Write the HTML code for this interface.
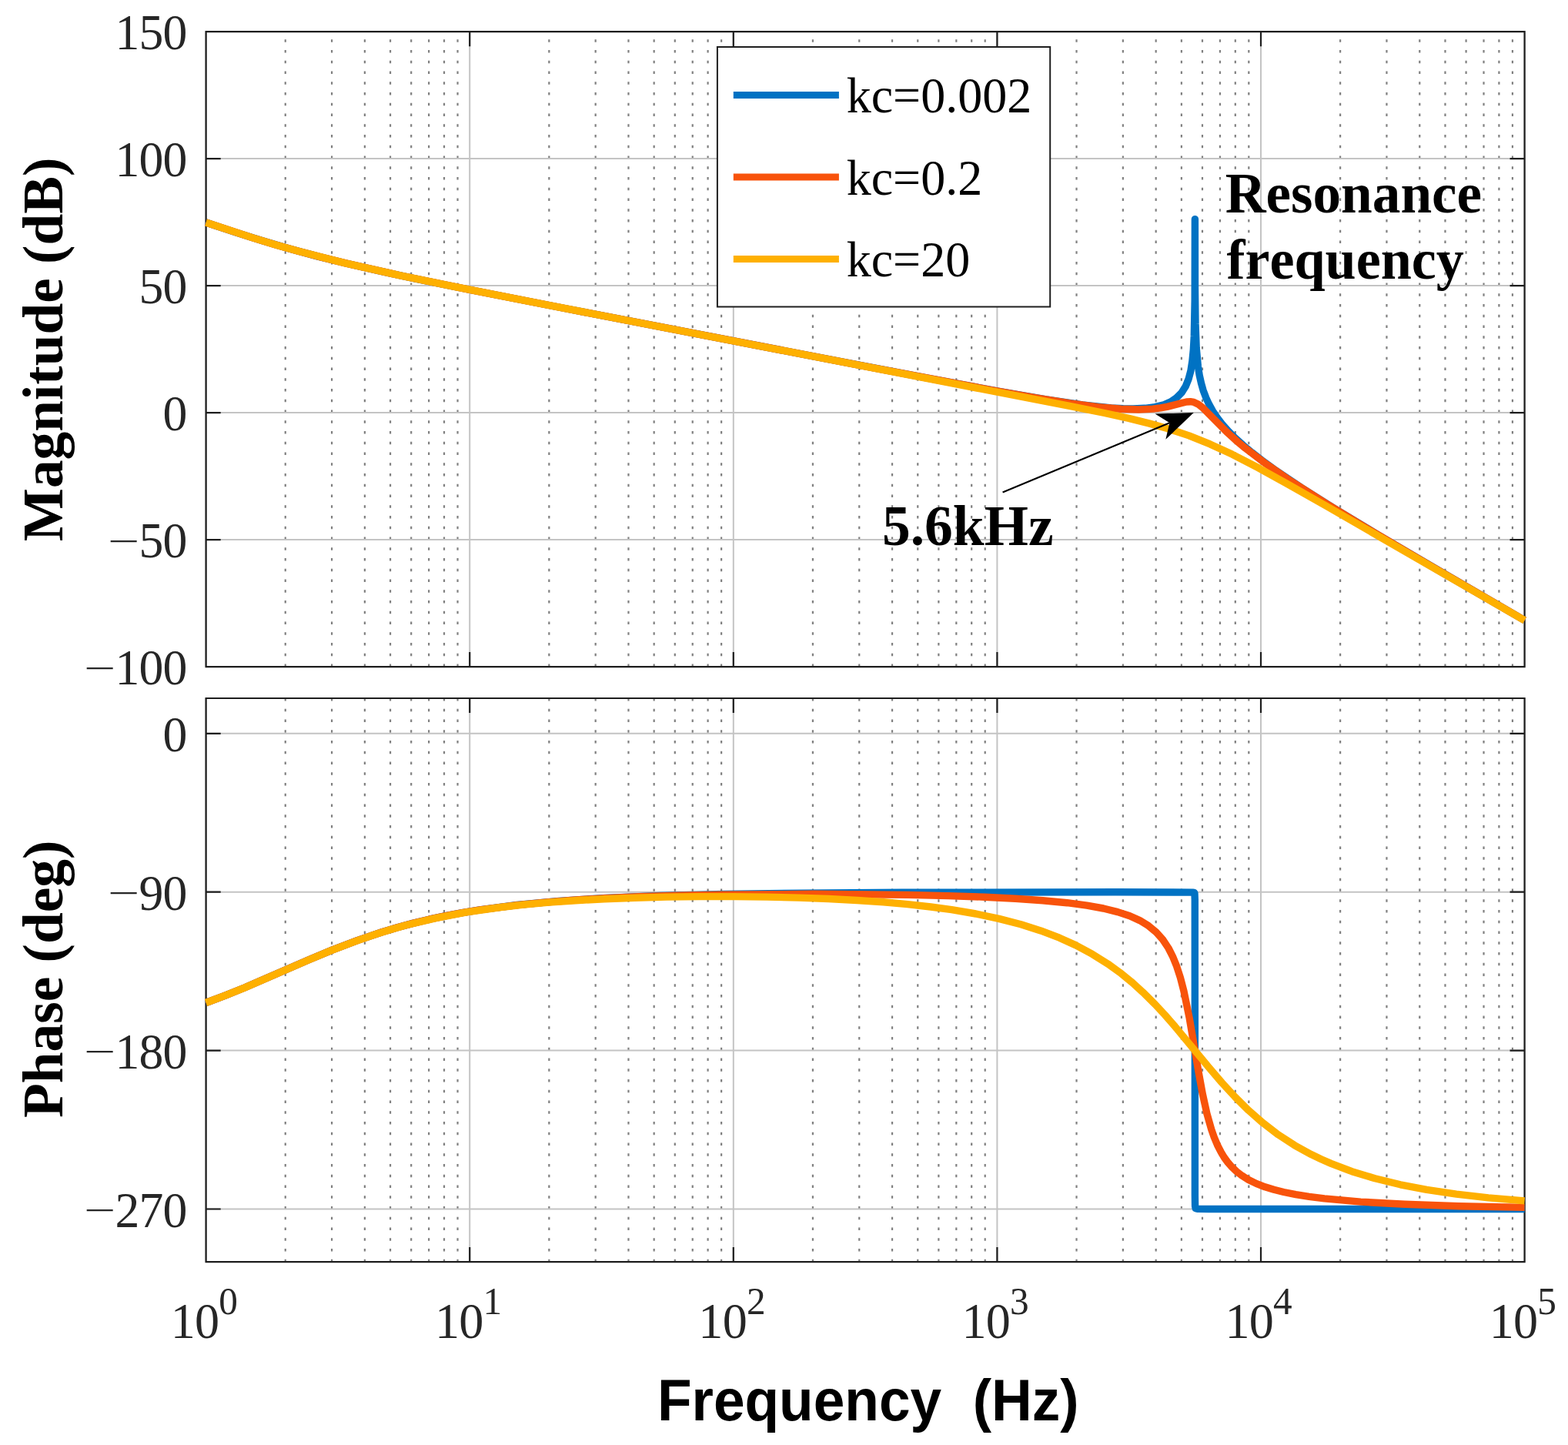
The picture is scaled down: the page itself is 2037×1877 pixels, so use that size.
<!DOCTYPE html>
<html><head><meta charset="utf-8"><title>Bode plot</title>
<style>html,body{margin:0;padding:0;background:#fff;overflow:hidden}svg{display:block}</style>
</head><body>
<svg width="2037" height="1877" viewBox="0 0 2037 1877">
<rect width="2037" height="1877" fill="#fff"/>
<path stroke="#808080" stroke-width="2.2" stroke-dasharray="3.5 10.25" fill="none" d="M370.73 866.1V41.1M431.06 866.1V41.1M473.87 866.1V41.1M507.07 866.1V41.1M534.19 866.1V41.1M557.13 866.1V41.1M577.00 866.1V41.1M594.52 866.1V41.1M713.33 866.1V41.1M773.66 866.1V41.1M816.47 866.1V41.1M849.67 866.1V41.1M876.79 866.1V41.1M899.73 866.1V41.1M919.60 866.1V41.1M937.12 866.1V41.1M1055.93 866.1V41.1M1116.26 866.1V41.1M1159.07 866.1V41.1M1192.27 866.1V41.1M1219.39 866.1V41.1M1242.33 866.1V41.1M1262.20 866.1V41.1M1279.72 866.1V41.1M1398.53 866.1V41.1M1458.86 866.1V41.1M1501.67 866.1V41.1M1534.87 866.1V41.1M1561.99 866.1V41.1M1584.93 866.1V41.1M1604.80 866.1V41.1M1622.32 866.1V41.1M1741.13 866.1V41.1M1801.46 866.1V41.1M1844.27 866.1V41.1M1877.47 866.1V41.1M1904.59 866.1V41.1M1927.53 866.1V41.1M1947.40 866.1V41.1M1964.92 866.1V41.1"/>
<path stroke="#C4C4C4" stroke-width="2" fill="none" d="M267.60 41.1V866.1M610.20 41.1V866.1M952.80 41.1V866.1M1295.40 41.1V866.1M1638.00 41.1V866.1M1980.60 41.1V866.1M267.6 206.10H1980.60M267.6 371.10H1980.60M267.6 536.10H1980.60M267.6 701.10H1980.60"/>
<path stroke="#1e1e1e" stroke-width="2.2" fill="none" stroke-linecap="square" d="M267.60 866.1v-18M267.60 41.1v18M610.20 866.1v-18M610.20 41.1v18M952.80 866.1v-18M952.80 41.1v18M1295.40 866.1v-18M1295.40 41.1v18M1638.00 866.1v-18M1638.00 41.1v18M1980.60 866.1v-18M1980.60 41.1v18M267.6 41.10h18M1980.60 41.10h-18M267.6 206.10h18M1980.60 206.10h-18M267.6 371.10h18M1980.60 371.10h-18M267.6 536.10h18M1980.60 536.10h-18M267.6 701.10h18M1980.60 701.10h-18M267.6 866.10h18M1980.60 866.10h-18M267.6 41.1H1980.60V866.1H267.6Z"/>
<g fill="none" stroke-width="9.4" stroke-linejoin="round" stroke-linecap="butt">
<path d="M267.6 289.0L306.2 301.9L341.9 313.1L377.6 323.5L413.3 333.1L450.5 342.2L490.5 351.4L537.6 361.6L593.3 373.0L733.4 400.5L1049.1 461.4L1204.8 491.2L1296.3 508.1L1359.1 518.9L1406.3 525.9L1443.4 529.9L1459.1 530.8L1472.0 531.0L1487.7 530.3L1500.6 528.6L1512.0 525.7L1521.0 521.8L1528.6 516.6L1535.1 510.0L1540.3 501.7L1544.2 491.9L1546.9 481.7L1548.9 469.0L1550.3 454.8L1551.3 436.9L1552.2 389.8L1552.4 284.6L1552.5 375.3L1553.0 420.4L1554.2 452.3L1556.4 476.0L1558.2 487.4L1560.5 497.8L1563.1 507.1L1566.7 516.6L1570.6 525.1L1575.4 533.8L1581.5 542.9L1587.6 550.8L1596.3 560.6L1604.9 569.2L1614.9 578.3L1626.3 587.8L1639.1 597.8L1654.9 609.3L1690.6 633.4L1733.4 660.4L1790.6 694.9L1866.3 739.4L1980.6 805.8" stroke="#0072C3"/>
<path d="M267.6 289.0L329.0 309.1L359.0 318.2L387.6 326.2L417.6 334.1L449.0 341.9L520.5 358.0L609.1 376.1L746.2 403.0L1133.4 477.6L1287.7 506.6L1346.3 516.9L1390.6 523.9L1426.3 528.6L1456.3 531.3L1479.1 532.0L1497.7 531.1L1507.7 529.9L1516.2 528.4L1541.3 522.0L1546.4 521.7L1551.0 522.4L1556.4 524.9L1562.3 529.5L1593.3 560.8L1604.9 571.3L1617.7 582.1L1644.9 602.7L1677.7 625.3L1722.0 653.5L1780.6 689.0L1859.2 735.2L1980.6 805.8" stroke="#F8530B"/>
<path d="M267.6 289.0L329.0 309.1L359.0 318.2L387.6 326.2L447.6 341.6L517.6 357.3L590.5 372.4L691.9 392.4L1392.0 527.8L1434.8 536.5L1466.3 543.4L1493.4 550.1L1516.3 556.5L1544.6 565.9L1572.0 576.9L1600.6 590.1L1634.9 607.8L1672.0 628.3L1723.4 657.5L1980.6 805.9" stroke="#FEB000"/>
</g>
<path stroke="#808080" stroke-width="2.2" stroke-dasharray="3.5 10.25" fill="none" d="M370.73 1639.2V907.0M431.06 1639.2V907.0M473.87 1639.2V907.0M507.07 1639.2V907.0M534.19 1639.2V907.0M557.13 1639.2V907.0M577.00 1639.2V907.0M594.52 1639.2V907.0M713.33 1639.2V907.0M773.66 1639.2V907.0M816.47 1639.2V907.0M849.67 1639.2V907.0M876.79 1639.2V907.0M899.73 1639.2V907.0M919.60 1639.2V907.0M937.12 1639.2V907.0M1055.93 1639.2V907.0M1116.26 1639.2V907.0M1159.07 1639.2V907.0M1192.27 1639.2V907.0M1219.39 1639.2V907.0M1242.33 1639.2V907.0M1262.20 1639.2V907.0M1279.72 1639.2V907.0M1398.53 1639.2V907.0M1458.86 1639.2V907.0M1501.67 1639.2V907.0M1534.87 1639.2V907.0M1561.99 1639.2V907.0M1584.93 1639.2V907.0M1604.80 1639.2V907.0M1622.32 1639.2V907.0M1741.13 1639.2V907.0M1801.46 1639.2V907.0M1844.27 1639.2V907.0M1877.47 1639.2V907.0M1904.59 1639.2V907.0M1927.53 1639.2V907.0M1947.40 1639.2V907.0M1964.92 1639.2V907.0"/>
<path stroke="#C4C4C4" stroke-width="2" fill="none" d="M267.60 907.0V1639.2M610.20 907.0V1639.2M952.80 907.0V1639.2M1295.40 907.0V1639.2M1638.00 907.0V1639.2M1980.60 907.0V1639.2M267.6 952.80H1980.60M267.6 1158.70H1980.60M267.6 1364.60H1980.60M267.6 1570.50H1980.60"/>
<path stroke="#1e1e1e" stroke-width="2.2" fill="none" stroke-linecap="square" d="M267.60 1639.2v-18M267.60 907.0v18M610.20 1639.2v-18M610.20 907.0v18M952.80 1639.2v-18M952.80 907.0v18M1295.40 1639.2v-18M1295.40 907.0v18M1638.00 1639.2v-18M1638.00 907.0v18M1980.60 1639.2v-18M1980.60 907.0v18M267.6 952.80h18M1980.60 952.80h-18M267.6 1158.70h18M1980.60 1158.70h-18M267.6 1364.60h18M1980.60 1364.60h-18M267.6 1570.50h18M1980.60 1570.50h-18M267.6 907.0H1980.60V1639.2H267.6Z"/>
<g fill="none" stroke-width="9.4" stroke-linejoin="round" stroke-linecap="butt">
<path d="M267.6 1302.5L291.9 1293.4L317.6 1283.0L400.5 1247.0L431.9 1233.9L464.8 1221.4L496.2 1210.8L516.2 1204.8L536.2 1199.4L557.6 1194.2L579.1 1189.6L600.5 1185.6L623.3 1181.9L671.9 1175.5L726.2 1170.4L787.6 1166.4L857.6 1163.5L940.5 1161.5L1042.0 1160.1L1172.0 1159.3L1449.1 1158.8L1550.3 1159.1L1551.5 1159.5L1552.0 1160.6L1552.3 1168.8L1552.4 1553.2L1552.6 1566.8L1553.2 1569.7L1556.3 1570.4L1570.6 1570.5L1980.6 1570.5" stroke="#0072C3"/>
<path d="M267.6 1302.5L291.9 1293.4L317.6 1283.0L400.5 1247.0L431.9 1233.9L464.8 1221.4L496.2 1210.8L516.2 1204.8L536.2 1199.4L557.6 1194.2L579.1 1189.7L600.5 1185.7L623.3 1181.9L671.9 1175.6L707.6 1172.1L744.8 1169.2L786.2 1166.7L830.5 1164.8L880.5 1163.3L934.8 1162.2L1057.7 1161.3L1179.1 1162.4L1232.0 1163.6L1279.1 1165.2L1319.1 1167.2L1354.8 1169.7L1386.3 1172.7L1412.0 1176.2L1433.4 1180.0L1452.0 1184.6L1467.7 1189.8L1480.6 1195.6L1492.0 1202.6L1502.0 1210.9L1510.5 1220.4L1517.9 1231.5L1523.4 1242.3L1528.6 1255.1L1533.4 1269.9L1537.9 1287.2L1545.2 1322.6L1557.3 1393.9L1562.3 1421.1L1567.9 1446.4L1573.7 1467.0L1577.3 1477.3L1581.5 1487.3L1586.3 1496.7L1590.3 1503.4L1594.9 1509.6L1600.6 1516.2L1606.3 1521.6L1613.4 1527.1L1622.0 1532.5L1632.0 1537.4L1643.4 1541.8L1654.9 1545.3L1667.7 1548.5L1683.4 1551.6L1700.6 1554.3L1720.6 1556.9L1767.7 1561.1L1824.9 1564.3L1894.9 1566.7L1980.6 1568.4" stroke="#F8530B"/>
<path d="M267.6 1302.5L291.9 1293.4L317.6 1283.1L399.0 1247.7L429.0 1235.2L460.5 1223.1L489.0 1213.2L507.6 1207.4L527.6 1201.8L566.2 1192.6L606.2 1184.9L650.5 1178.5L680.5 1175.1L713.4 1172.1L747.6 1169.7L784.8 1167.7L824.8 1166.2L866.2 1165.1L909.1 1164.6L953.4 1164.6L996.2 1165.1L1037.7 1166.1L1076.2 1167.5L1113.4 1169.5L1147.7 1171.8L1179.1 1174.6L1209.1 1178.0L1236.3 1181.7L1267.7 1187.0L1297.7 1193.4L1326.3 1200.8L1352.0 1208.9L1376.3 1218.2L1397.7 1227.9L1419.1 1239.4L1439.1 1251.9L1454.8 1263.2L1470.6 1276.0L1484.8 1288.9L1500.6 1304.6L1513.4 1318.4L1526.3 1333.2L1570.6 1386.7L1587.6 1406.6L1604.9 1425.4L1622.0 1442.3L1640.6 1458.6L1660.6 1473.9L1682.0 1487.8L1703.4 1499.6L1716.3 1505.8L1729.2 1511.4L1756.3 1521.7L1786.3 1530.8L1819.2 1538.8L1853.4 1545.4L1892.0 1551.2L1933.5 1555.9L1980.6 1559.9" stroke="#FEB000"/>
</g>
<text transform="translate(149.53,64.30) scale(0.965,1)" font-family="'Liberation Serif','Times New Roman',Times,serif" font-size="66.0" letter-spacing="-0.85" fill="#262626" style="font-kerning:none">150</text>
<text transform="translate(149.53,229.30) scale(0.965,1)" font-family="'Liberation Serif','Times New Roman',Times,serif" font-size="66.0" letter-spacing="-0.85" fill="#262626" style="font-kerning:none">100</text>
<text transform="translate(180.56,394.30) scale(0.965,1)" font-family="'Liberation Serif','Times New Roman',Times,serif" font-size="66.0" letter-spacing="-0.85" fill="#262626" style="font-kerning:none">50</text>
<text transform="translate(211.58,559.30) scale(0.965,1)" font-family="'Liberation Serif','Times New Roman',Times,serif" font-size="66.0" letter-spacing="-0.85" fill="#262626" style="font-kerning:none">0</text>
<text transform="translate(140.26,717.77) scale(1.1071,0.6693)" font-family="'Liberation Serif','Times New Roman',Times,serif" font-size="66.0" fill="#262626">−</text>
<text transform="translate(180.56,724.30) scale(0.965,1)" font-family="'Liberation Serif','Times New Roman',Times,serif" font-size="66.0" letter-spacing="-0.85" fill="#262626" style="font-kerning:none">50</text>
<text transform="translate(109.26,882.77) scale(1.1071,0.6693)" font-family="'Liberation Serif','Times New Roman',Times,serif" font-size="66.0" fill="#262626">−</text>
<text transform="translate(149.53,889.30) scale(0.965,1)" font-family="'Liberation Serif','Times New Roman',Times,serif" font-size="66.0" letter-spacing="-0.85" fill="#262626" style="font-kerning:none">100</text>
<text transform="translate(211.58,976.00) scale(0.965,1)" font-family="'Liberation Serif','Times New Roman',Times,serif" font-size="66.0" letter-spacing="-0.85" fill="#262626" style="font-kerning:none">0</text>
<text transform="translate(140.26,1175.37) scale(1.1071,0.6693)" font-family="'Liberation Serif','Times New Roman',Times,serif" font-size="66.0" fill="#262626">−</text>
<text transform="translate(180.56,1181.90) scale(0.965,1)" font-family="'Liberation Serif','Times New Roman',Times,serif" font-size="66.0" letter-spacing="-0.85" fill="#262626" style="font-kerning:none">90</text>
<text transform="translate(109.26,1381.27) scale(1.1071,0.6693)" font-family="'Liberation Serif','Times New Roman',Times,serif" font-size="66.0" fill="#262626">−</text>
<text transform="translate(149.53,1387.80) scale(0.965,1)" font-family="'Liberation Serif','Times New Roman',Times,serif" font-size="66.0" letter-spacing="-0.85" fill="#262626" style="font-kerning:none">180</text>
<text transform="translate(109.26,1587.17) scale(1.1071,0.6693)" font-family="'Liberation Serif','Times New Roman',Times,serif" font-size="66.0" fill="#262626">−</text>
<text transform="translate(149.53,1593.70) scale(0.965,1)" font-family="'Liberation Serif','Times New Roman',Times,serif" font-size="66.0" letter-spacing="-0.85" fill="#262626" style="font-kerning:none">270</text>
<text transform="translate(221.75,1738.3) scale(0.965,1)" font-family="'Liberation Serif','Times New Roman',Times,serif" font-size="66.5" letter-spacing="-0.85" fill="#262626" style="font-kerning:none">10<tspan font-size="51.0" dy="-31.2">0</tspan></text>
<text transform="translate(564.89,1738.3) scale(0.965,1)" font-family="'Liberation Serif','Times New Roman',Times,serif" font-size="66.5" letter-spacing="-0.85" fill="#262626" style="font-kerning:none">10<tspan font-size="51.0" dy="-31.2">1</tspan></text>
<text transform="translate(907.37,1738.3) scale(0.965,1)" font-family="'Liberation Serif','Times New Roman',Times,serif" font-size="66.5" letter-spacing="-0.85" fill="#262626" style="font-kerning:none">10<tspan font-size="51.0" dy="-31.2">2</tspan></text>
<text transform="translate(1249.57,1738.3) scale(0.965,1)" font-family="'Liberation Serif','Times New Roman',Times,serif" font-size="66.5" letter-spacing="-0.85" fill="#262626" style="font-kerning:none">10<tspan font-size="51.0" dy="-31.2">3</tspan></text>
<text transform="translate(1591.59,1738.3) scale(0.965,1)" font-family="'Liberation Serif','Times New Roman',Times,serif" font-size="66.5" letter-spacing="-0.85" fill="#262626" style="font-kerning:none">10<tspan font-size="51.0" dy="-31.2">4</tspan></text>
<text transform="translate(1934.77,1738.3) scale(0.965,1)" font-family="'Liberation Serif','Times New Roman',Times,serif" font-size="66.5" letter-spacing="-0.85" fill="#262626" style="font-kerning:none">10<tspan font-size="51.0" dy="-31.2">5</tspan></text>
<text transform="translate(81.00,703.25) rotate(-90) scale(0.9970,1)" font-family="'Liberation Serif','Times New Roman',Times,serif" font-weight="bold" font-size="73.50" fill="#000" style="font-kerning:none" xml:space="preserve">Magnitude (dB)</text>
<text transform="translate(80.90,1452.05) rotate(-90) scale(0.9980,1)" font-family="'Liberation Serif','Times New Roman',Times,serif" font-weight="bold" font-size="73.50" fill="#000" style="font-kerning:none" xml:space="preserve">Phase (deg)</text>
<text transform="translate(853.92,1845.00) scale(0.9545,1)" font-family="'Liberation Sans',Arial,Helvetica,sans-serif" font-weight="bold" font-size="76.50" fill="#000" style="font-kerning:none" xml:space="preserve">Frequency  (Hz)</text>
<rect x="931.9" y="61" width="432.3" height="337.5" fill="#fff" stroke="#1e1e1e" stroke-width="2"/>
<path d="M952.8 123.4H1089.9" stroke="#0072C3" stroke-width="9"/>
<path d="M952.8 229.9H1089.9" stroke="#F8530B" stroke-width="9"/>
<path d="M952.8 336.6H1089.9" stroke="#FEB000" stroke-width="9"/>
<text transform="translate(1099.68,146.40) scale(0.9900,1)" font-family="'Liberation Serif','Times New Roman',Times,serif" font-size="64.70" fill="#000" style="font-kerning:none" xml:space="preserve">kc=0.002</text>
<text transform="translate(1099.68,252.80) scale(0.9900,1)" font-family="'Liberation Serif','Times New Roman',Times,serif" font-size="64.70" fill="#000" style="font-kerning:none" xml:space="preserve">kc=0.2</text>
<text transform="translate(1099.68,359.40) scale(0.9900,1)" font-family="'Liberation Serif','Times New Roman',Times,serif" font-size="64.70" fill="#000" style="font-kerning:none" xml:space="preserve">kc=20</text>
<text transform="translate(1591.65,276.00) scale(0.9960,1)" font-family="'Liberation Serif','Times New Roman',Times,serif" font-weight="bold" font-size="73.50" fill="#000" style="font-kerning:none" xml:space="preserve">Resonance</text>
<text transform="translate(1593.47,361.60) scale(0.9810,1)" font-family="'Liberation Serif','Times New Roman',Times,serif" font-weight="bold" font-size="73.50" fill="#000" style="font-kerning:none" xml:space="preserve">frequency</text>
<text transform="translate(1145.96,708.20)" font-family="'Liberation Serif','Times New Roman',Times,serif" font-weight="bold" font-size="73.50" fill="#000" style="font-kerning:none" xml:space="preserve">5.6kHz</text>
<path d="M1302.6 639.6L1519.42 549.19" stroke="#000" stroke-width="2.2"/>
<path d="M1550.80 536.10L1514.35 570.80L1519.42 549.19L1500.49 537.58Z" fill="#000"/>
</svg>
</body></html>
